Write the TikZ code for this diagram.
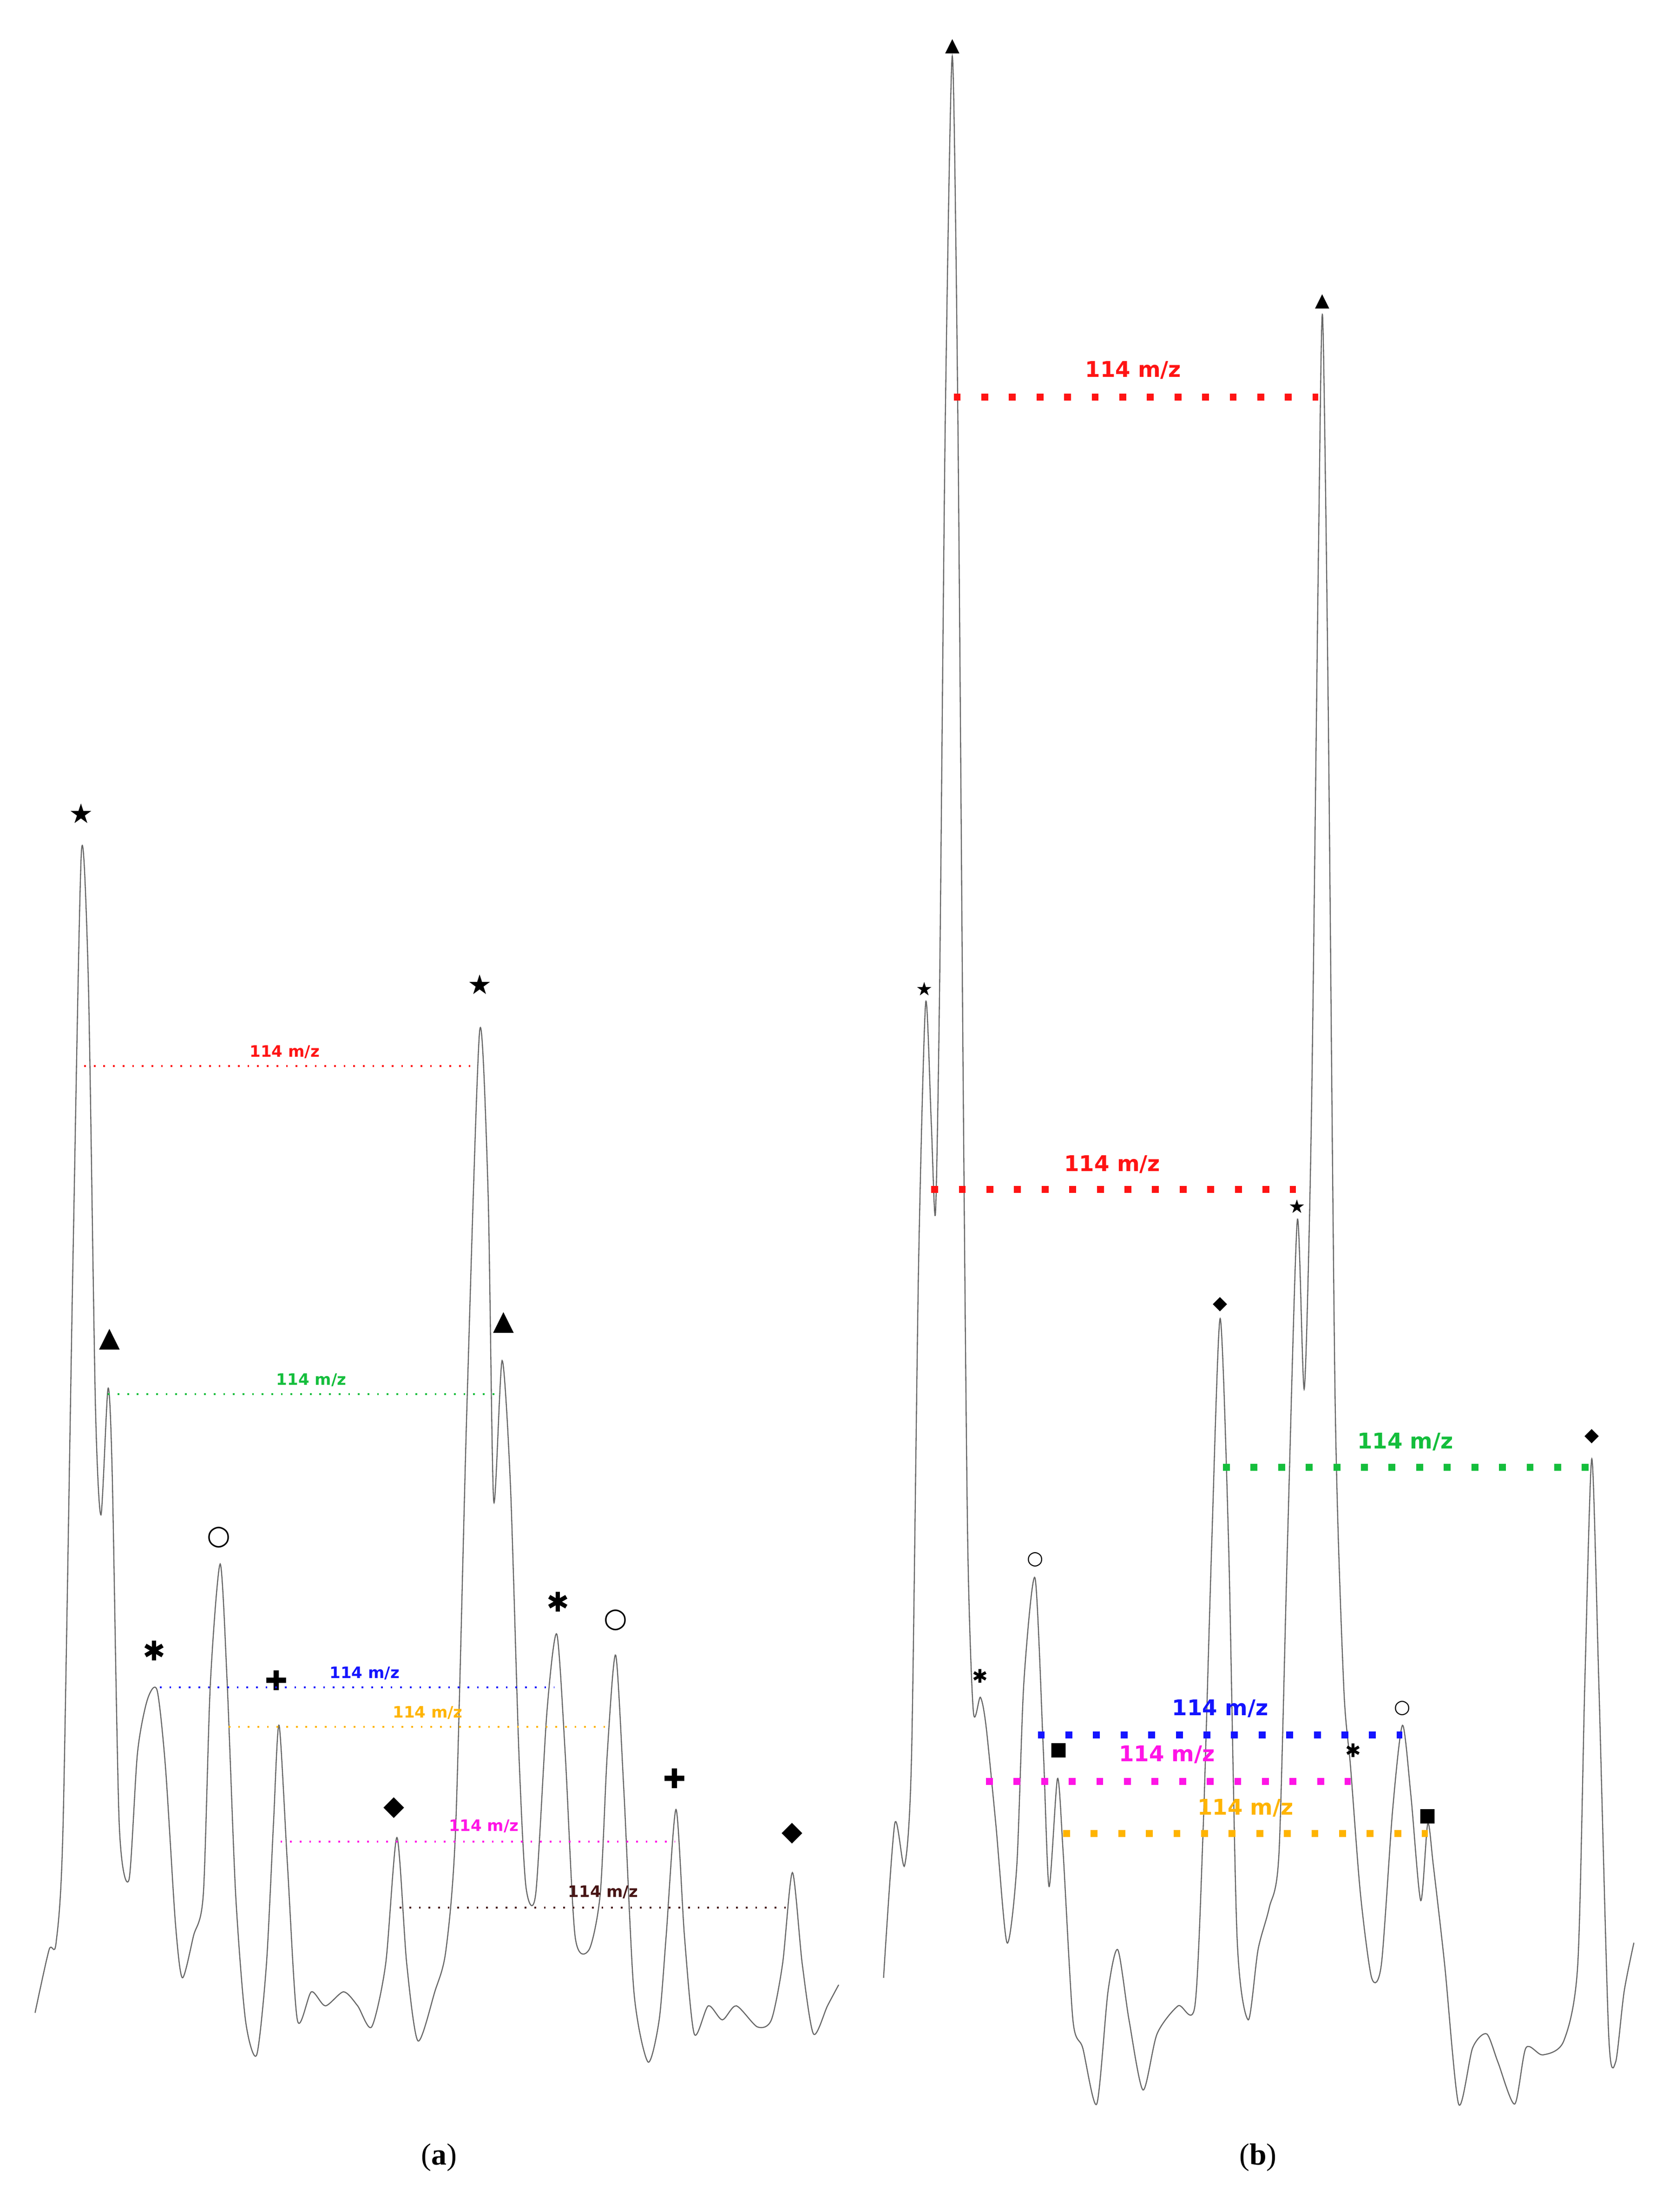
\documentclass[tikz,border=0pt]{standalone}
\usepackage{fontspec}
\setmainfont{DejaVu Sans}
\newfontfamily\capfont{Liberation Serif}
\begin{document}
\begin{tikzpicture}[x=0.1cm,y=-0.1cm]
\useasboundingbox (0,0) rectangle (1190,1577);
\fill[white] (0,0) rectangle (1190,1577);
\tikzset{trace/.style={gray!80!black,line width=2.2pt,smooth,tension=0.45},
 markA/.style={font=\fontsize{55}{55}\selectfont,inner sep=0pt},
 markB/.style={font=\fontsize{38}{38}\selectfont,inner sep=0pt},
 dotA/.style={line width=3.5pt,dash pattern=on 3.5pt off 16pt},
 dotB/.style={line width=14pt,dash pattern=on 14pt off 42pt},
 labA/.style={font=\bfseries\fontsize{32}{32}\selectfont,inner sep=0pt},
 labB/.style={font=\bfseries\fontsize{44}{44}\selectfont,inner sep=0pt},
 capt/.style={font=\capfont\fontsize{62}{62}\selectfont,inner sep=0pt}}
\definecolor{myred}{RGB}{255,20,20}
\definecolor{mygreen}{RGB}{20,190,60}
\definecolor{myblue}{RGB}{20,20,255}
\definecolor{myorange}{RGB}{255,180,0}
\definecolor{mymag}{RGB}{255,20,230}
\definecolor{mybrown}{RGB}{70,20,20}
% panel a
\draw[trace] plot coordinates {(25,1435) (35,1390) (40,1385) (45,1300) (52,900) (58,608) (63,700) (68,1000) (72,1080) (77,990) (80,1050) (85,1300) (92,1340) (98,1250) (105,1212) (112,1205) (118,1260) (125,1370) (130,1410) (138,1380) (145,1350) (150,1200) (157,1115) (162,1200) (168,1350) (175,1440) (183,1465) (190,1400) (195,1300) (199,1230) (205,1330) (212,1440) (222,1420) (232,1430) (245,1420) (255,1430) (265,1445) (275,1400) (283,1310) (290,1400) (298,1455) (310,1420) (318,1390) (325,1300) (333,1000) (342,735) (348,850) (352,1070) (358,970) (364,1060) (370,1250) (375,1345) (382,1350) (390,1220) (397,1165) (403,1250) (410,1380) (420,1390) (428,1350) (433,1250) (439,1180) (445,1280) (452,1420) (462,1470) (470,1440) (475,1380) (482,1290) (488,1380) (495,1450) (505,1430) (515,1440) (525,1430) (540,1445) (550,1440) (558,1400) (565,1335) (572,1400) (580,1450) (590,1430) (598,1415)};
\node[markA] (a1) at (58,580) {★};
\node[markA] (a2) at (78,955) {▲};
\node[markA] (a3) at (110,1177) {✱};
\node[markA] (a4) at (156,1096) {○};
\node[markA] (a5) at (197,1198) {✚};
\node[markA] (a6) at (281,1289) {◆};
\node[markA] (a7) at (342,702) {★};
\node[markA] (a8) at (359,943) {▲};
\node[markA] (a9) at (398,1142) {✱};
\node[markA] (a10) at (439,1155) {○};
\node[markA] (a11) at (481,1268) {✚};
\node[markA] (a12) at (565,1307) {◆};
\coordinate (r1s) at (60,760); \coordinate (r1e) at (337,760);
\draw[dotA,myred] (r1s) -- (r1e); \node[labA,myred] (ra) at (203,750) {114 m/z};
\coordinate (g1s) at (77,994); \coordinate (g1e) at (357,994);
\draw[dotA,mygreen] (g1s) -- (g1e); \node[labA,mygreen] (ga) at (222,984) {114 m/z};
\coordinate (b1s) at (114,1203); \coordinate (b1e) at (395,1203);
\draw[dotA,myblue] (b1s) -- (b1e); \node[labA,myblue] (ba) at (260,1193) {114 m/z};
\coordinate (o1s) at (163,1231); \coordinate (o1e) at (437,1231);
\draw[dotA,myorange] (o1s) -- (o1e); \node[labA,myorange] (oa) at (305,1221) {114 m/z};
\coordinate (m1s) at (200,1313); \coordinate (m1e) at (481,1313);
\draw[dotA,mymag] (m1s) -- (m1e); \node[labA,mymag] (ma) at (345,1302) {114 m/z};
\coordinate (k1s) at (285,1360); \coordinate (k1e) at (565,1360);
\draw[dotA,mybrown] (k1s) -- (k1e); \node[labA,mybrown] (ka) at (430,1349) {114 m/z};
% panel b
\draw[trace] plot coordinates {(630,1410) (638,1300) (645,1330) (650,1250) (655,900) (660,715) (664,800) (667,865) (670,700) (674,300) (679,40) (683,300) (687,800) (690,1100) (694,1220) (699,1210) (703,1230) (710,1300) (718,1385) (725,1330) (730,1200) (738,1125) (744,1250) (748,1345) (754,1268) (758,1320) (765,1440) (772,1460) (782,1500) (790,1420) (797,1390) (805,1440) (815,1490) (825,1450) (840,1430) (852,1430) (858,1300) (864,1100) (870,940) (876,1100) (882,1380) (890,1440) (897,1390) (905,1360) (912,1320) (918,1100) (925,870) (930,990) (935,800) (940,400) (943,225) (947,500) (952,1000) (958,1200) (963,1260) (970,1350) (978,1410) (985,1400) (993,1290) (1000,1230) (1006,1280) (1013,1355) (1018,1300) (1022,1330) (1030,1400) (1040,1500) (1050,1460) (1060,1450) (1068,1470) (1080,1500) (1088,1460) (1100,1465) (1115,1455) (1125,1400) (1130,1200) (1135,1040) (1140,1200) (1147,1450) (1152,1470) (1158,1420) (1165,1385)};
\node[markB] (b1) at (659,705) {★};
\node[markB] (b2) at (679,33) {▲};
\node[markB] (b3) at (699,1195) {✱};
\node[markB] (b4) at (738,1112) {○};
\node[markB] (b5) at (755,1248) {■};
\node[markB] (b6) at (870,930) {◆};
\node[markB] (b7) at (925,860) {★};
\node[markB] (b8) at (943,215) {▲};
\node[markB] (b9) at (965,1248) {✱};
\node[markB] (b10) at (1000,1218) {○};
\node[markB] (b11) at (1018,1295) {■};
\node[markB] (b12) at (1135,1024) {◆};
\coordinate (R1s) at (680,283); \coordinate (R1e) at (940,283);
\draw[dotB,myred] (R1s) -- (R1e); \node[labB,myred] (Ra) at (808,264) {114 m/z};
\coordinate (R2s) at (664,848); \coordinate (R2e) at (924,848);
\draw[dotB,myred] (R2s) -- (R2e); \node[labB,myred] (Rb) at (793,830) {114 m/z};
\coordinate (G1s) at (872,1046); \coordinate (G1e) at (1134,1046);
\draw[dotB,mygreen] (G1s) -- (G1e); \node[labB,mygreen] (Ga) at (1002,1028) {114 m/z};
\coordinate (B1s) at (740,1237); \coordinate (B1e) at (1000,1237);
\draw[dotB,myblue] (B1s) -- (B1e); \node[labB,myblue] (Ba) at (870,1218) {114 m/z};
\coordinate (M1s) at (703,1270); \coordinate (M1e) at (963,1270);
\draw[dotB,mymag] (M1s) -- (M1e); \node[labB,mymag] (Ma) at (832,1251) {114 m/z};
\coordinate (O1s) at (758,1307); \coordinate (O1e) at (1018,1307);
\draw[dotB,myorange] (O1s) -- (O1e); \node[labB,myorange] (Oa) at (888,1289) {114 m/z};
\node[capt] (ca) at (313,1538) {(\textbf{a})};
\node[capt] (cb) at (897,1538) {(\textbf{b})};
\end{tikzpicture}
\end{document}
